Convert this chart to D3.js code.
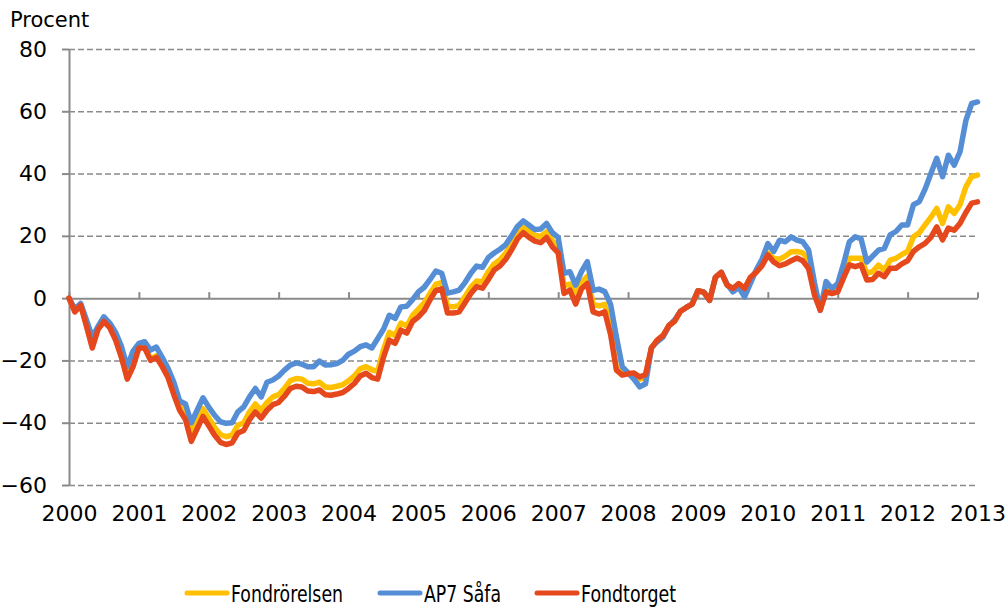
<!DOCTYPE html>
<html>
<head>
<meta charset="utf-8">
<script src="https://cdn.jsdelivr.net/npm/d3@7"></script>
<style>
  body { margin: 0; background: #fff; }
  svg { display: block; font-family: "DejaVu Sans", Verdana, sans-serif; }
</style>
</head>
<body>
<div id="graf"></div>
<script>
// Data: monthly values, Jan 2000 .. Jan 2013 (percent)
startYear = 2000
years = [2000, 2001, 2002, 2003, 2004, 2005, 2006, 2007, 2008, 2009, 2010, 2011, 2012, 2013]
yTicks = [-60, -40, -20, 0, 20, 40, 60, 80]
seriesNames = ['Fondrörelsen', 'AP7 Såfa', 'Fondtorget']

fondrorelsen = [
  0, -4, -2, -8.5, -15, -9.5, -7, -9, -13, -18.5, -25, -21,
  -15.5, -15.5, -19.5, -18.5, -21, -25, -30, -34.5, -37, -43, -39.5, -35.5,
  -38.5, -41.5, -43.8, -44.5, -44, -40.8, -40, -36.5, -34, -36, -33.5, -31.7,
  -31, -29, -26.5, -25.8, -26, -27.3, -27.5, -27, -28.5, -28.7, -28.3, -27.8,
  -26.5, -25, -22.7, -22, -23, -23.5, -16.5, -11, -12, -8, -9, -5.5,
  -3.5, -1.5, 1.5, 4.5, 5, -2.5, -2.8, -2.3, 0.5, 3.5, 5.5, 5.2,
  8.5, 11, 12.3, 14.5, 17.5, 21, 22.7, 21.5, 20.2, 19.8, 21.3, 18.5,
  16.5, 4, 4.5, 1, 5, 7, -2, -2.5, -2, -10, -22.5, -24,
  -24, -24.5, -26, -25.5, -16, -13.5, -12, -8.8, -7.3, -4.2, -3, -1.9,
  2.4, 1.9, -0.7, 6.7, 8.3, 4.3, 3, 4.6, 3, 6.5, 8.5, 10.8,
  14.5, 12.7, 12.5, 13.5, 14.9, 15, 14.5, 12.5, 2, -3.5, 3, 2.5,
  3.5, 8, 12.8, 12.8, 12.8, 8, 8.5, 10.6, 9, 12.2, 12.8, 14,
  15, 19.7, 21, 23.5, 26, 28.8, 24, 29.3, 27.2, 30, 35.7, 39,
  39.5
]

ap7Safa = [
  0, -3.5, -1.7, -7, -12.5, -9, -6, -8, -11, -15.5, -22, -17,
  -14.5, -14, -16.7, -15.7, -19, -22.5, -27, -33, -34, -40, -36, -32,
  -35, -37.6, -39.7, -40.2, -40, -36.5, -34.9, -31.7, -29, -31.7, -27, -26.3,
  -25, -23.1, -21.5, -20.8, -21.2, -22, -22, -20.2, -21.5, -21.4, -21, -20,
  -18, -17, -15.6, -15, -16, -13, -10, -5.5, -6.5, -2.8, -2.6, -0.5,
  2, 3.5, 6, 8.7, 8, 1.6, 2, 2.6, 5, 8, 10.3, 9.9,
  13, 14.5, 15.7, 17.2, 20, 23, 24.8, 23.4, 22, 22.2, 24, 21,
  19.5, 8, 8.5, 4.2, 8.5, 11.7, 2.5, 2.9, 2.1, -2, -12.5, -22,
  -24, -26, -28.5, -27.5, -16, -14, -12.5, -9, -7, -4.2, -3, -1.9,
  2.4, 1.9, -0.7, 6.7, 8.3, 4.5, 2, 3.5, 0.4, 4.7, 9, 12.5,
  17.5, 15, 18.6, 18.1, 19.7, 18.6, 18.1, 15.4, 5, -3.9, 5.3, 3.1,
  4.7, 11, 18.1, 19.7, 19.1, 11.6, 13.5, 15.4, 16, 20.3, 21.4, 23.5,
  23.5, 30, 31, 35, 40, 44.9, 39, 45.9, 42.7, 47, 57, 62.5,
  63
]

fondtorget = [
  0, -4.4, -2.3, -9, -16, -10, -7.5, -9.5, -13.5, -19, -26, -22,
  -16, -16, -20, -19, -22, -25.5, -31, -36, -39, -46, -42, -38,
  -41, -44, -46.3, -47, -46.5, -43.3, -42.5, -39, -36.5, -38.5, -36, -34.2,
  -33.5, -31.5, -29, -28.3, -28.5, -29.8, -30, -29.5, -31, -31.2, -30.8, -30.3,
  -29, -27.4, -25, -24.1, -25.5, -26, -19, -13.5, -14.5, -10.3, -11.2, -7.5,
  -6, -4, -0.5, 2.5, 3, -4.8, -4.8, -4.4, -1.5, 1.5, 3.7, 3.2,
  6, 9, 10.3, 12.5, 15.5, 19, 21, 19.5, 18.3, 17.8, 19.5, 16.5,
  14.5, 1.5, 2.6, -1.9, 3, 4.7, -4.4, -5.1, -4.4, -11.7, -23.1, -24.7,
  -24.3, -24, -25.3, -24.5, -16, -13.5, -12, -8.8, -7.4, -4.2, -3, -1.9,
  2.4, 1.9, -0.7, 6.7, 8.3, 4.2, 3.1, 4.7, 3.1, 6.7, 8.3, 10.4,
  13.9, 11.6, 10.4, 11, 12, 12.9, 12, 9.5, 1, -3.9, 2, 1.5,
  2, 6.5, 10.7, 10.1, 10.7, 5.8, 6, 8, 6.9, 9.6, 9.6, 11,
  12, 15, 16.5, 17.6, 19.5, 22.9, 18.7, 22.5, 21.8, 24, 27.5, 30.5,
  30.9
]

colores = ['#ffc000', '#558ed5', '#e5481d']
anchoTextos = [112, 77, 95]

// I. Configuración
ancho_total = 1005
alto_total = 608
margins = { top: 49, left: 69, right: 27.5, bottom: 123 }
ancho = ancho_total - margins.left - margins.right
alto = alto_total - margins.top - margins.bottom

svg = d3.select('#graf').append('svg')
        .attr('width', ancho_total)
        .attr('height', alto_total)

g = svg.append('g')
       .attr('transform', `translate(${ margins.left }, ${ margins.top })`)

x = d3.scaleLinear()
      .domain([years[0], years[years.length - 1]])
      .range([0, ancho])
y = d3.scaleLinear()
      .domain([yTicks[0], yTicks[yTicks.length - 1]])
      .range([alto, 0])

// II. Grilla
grid = g.append('g')
        .call(d3.axisLeft(y).tickValues(yTicks.filter(d => d !== 0)).tickSize(-ancho).tickFormat(''))
grid.select('.domain').remove()
grid.selectAll('line')
    .attr('stroke', '#8a8a8a')
    .attr('stroke-width', 1.5)
    .attr('stroke-dasharray', '6,3')

// Eje Y
yAxis = g.append('g')
         .call(d3.axisLeft(y).tickValues(yTicks).tickSizeInner(7).tickSizeOuter(0).tickPadding(15))
yAxis.select('.domain').attr('stroke', '#8a8a8a').attr('stroke-width', 2)
yAxis.selectAll('line').attr('stroke', '#8a8a8a').attr('stroke-width', 2)
yAxis.selectAll('text')
     .attr('font-size', '22px')
     .attr('font-family', '"DejaVu Sans", Verdana, sans-serif')
     .attr('fill', '#000')

// Eje X en cero
xAxis = g.append('g')
         .attr('transform', `translate(0, ${ y(0) })`)
         .call(d3.axisBottom(x).tickValues(years).tickSizeInner(-6).tickSizeOuter(0).tickFormat(''))
xAxis.select('.domain').attr('stroke', '#8a8a8a').attr('stroke-width', 2)
xAxis.selectAll('line').attr('stroke', '#8a8a8a').attr('stroke-width', 2)

// Etiquetas de años abajo
xLabels = g.append('g')
           .attr('transform', `translate(0, ${ alto })`)
           .call(d3.axisBottom(x).tickValues(years).tickSize(0).tickFormat(d => d))
xLabels.select('.domain').remove()
xLabels.selectAll('text')
       .attr('y', 36)
       .attr('dy', null)
       .attr('font-size', '22px')
       .attr('font-family', '"DejaVu Sans", Verdana, sans-serif')
       .attr('fill', '#000')

svg.append('text')
   .attr('x', 10)
   .attr('y', 27)
   .attr('font-size', '21px')
   .text('Procent')

// III. Líneas
serie = [fondrorelsen, ap7Safa, fondtorget]
linea = d3.line()
          .x((d, i) => x(startYear + i / 12))
          .y(d => y(d))

g.selectAll('path.serie')
 .data(serie)
 .enter()
 .append('path')
   .attr('class', 'serie')
   .attr('d', d => linea(d))
   .attr('fill', 'none')
   .attr('stroke', (d, i) => colores[i])
   .attr('stroke-width', 5.5)
   .attr('stroke-linejoin', 'round')
   .attr('stroke-linecap', 'round')

// IV. Leyenda
legendX = [187, 380, 537]
leyenda = svg.append('g')
             .attr('transform', 'translate(0, 593)')
item = leyenda.selectAll('g')
              .data(seriesNames)
              .enter()
              .append('g')
                .attr('transform', (d, i) => `translate(${ legendX[i] }, 0)`)
item.append('line')
    .attr('x1', 0).attr('x2', 40)
    .attr('stroke', (d, i) => colores[i])
    .attr('stroke-width', 5)
    .attr('stroke-linecap', 'round')
item.append('text')
    .attr('x', 44)
    .attr('y', 9)
    .attr('font-size', '23px')
    .attr('textLength', (d, i) => anchoTextos[i])
    .attr('lengthAdjust', 'spacingAndGlyphs')
    .text(d => d)
</script>
</body>
</html>
